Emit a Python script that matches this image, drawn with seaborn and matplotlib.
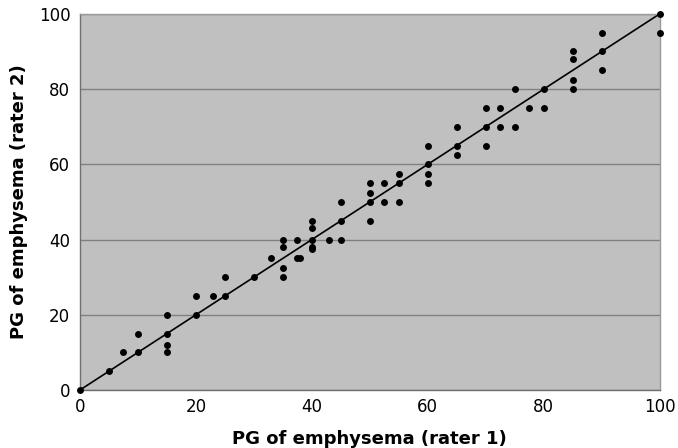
import matplotlib
matplotlib.use("Agg")
import matplotlib.pyplot as plt
import seaborn as sns
import pandas as pd

rater1 = [0, 5, 7.5, 10, 10, 15, 15, 15, 15, 20, 20, 23, 25, 25,
          30, 33, 35, 35, 35, 35, 37.5, 37.5, 38, 40, 40, 40, 40, 40, 43,
          45, 45, 45, 50, 50, 50, 50, 52.5, 52.5, 55, 55, 55,
          60, 60, 60, 60, 65, 65, 65, 70, 70, 70, 72.5, 72.5,
          75, 75, 77.5, 80, 80, 85, 85, 85, 85, 90, 90, 90, 100, 100]
rater2 = [0, 5, 10, 10, 15, 20, 15, 12, 10, 20, 25, 25, 25, 30,
          30, 35, 32.5, 30, 40, 38, 40, 35, 35, 40, 38, 37.5, 43, 45, 40,
          40, 45, 50, 45, 50, 52.5, 55, 50, 55, 50, 55, 57.5,
          65, 60, 57.5, 55, 70, 65, 62.5, 75, 70, 65, 75, 70,
          80, 70, 75, 80, 75, 80, 82.5, 88, 90, 85, 90, 95, 100, 95]

xticks = [0, 20, 40, 60, 80, 100]
yticks = [0, 20, 40, 60, 80, 100]
xlabel = "PG of emphysema (rater 1)"
ylabel = "PG of emphysema (rater 2)"

df = pd.DataFrame({"r1": rater1, "r2": rater2})

sns.set_style("white")
plt.rcParams["font.family"] = ["DejaVu Sans"]
plt.rcParams["text.color"] = "black"
plt.rcParams["axes.labelcolor"] = "black"

fig = plt.figure(figsize=(6.78, 4.48), dpi=100)
ax = fig.add_axes([0.118, 0.1295, 0.855, 0.8395])
ax.set_facecolor("#c0c0c0")

sns.lineplot(x=[0, 100], y=[0, 100], ax=ax, color="black", linewidth=1.2, zorder=2)
sns.scatterplot(data=df, x="r1", y="r2", ax=ax, color="black", s=25,
                edgecolor="black", linewidth=0, zorder=3, clip_on=False)

ax.set_xlim(0, 100)
ax.set_ylim(0, 100)
ax.set_xticks(xticks)
ax.set_yticks(yticks)
ax.yaxis.grid(True, color="#808080", linewidth=1.0)
ax.xaxis.grid(False)
ax.set_axisbelow(True)

for s in ["top", "right"]:
    ax.spines[s].set_color("#9a9a9a")
    ax.spines[s].set_linewidth(1.0)
for s in ["left", "bottom"]:
    ax.spines[s].set_color("#707070")
    ax.spines[s].set_linewidth(1.0)

ax.tick_params(axis="both", which="both", direction="out", length=4, width=1,
               color="#707070", labelsize=12, labelcolor="black", pad=2)
ax.tick_params(axis="y", length=5)

ax.set_xlabel(xlabel, fontsize=13, fontweight="bold", labelpad=10, color="black")
ax.set_ylabel(ylabel, fontsize=13, fontweight="bold", labelpad=8, color="black")

fig.savefig("out.png", dpi=100)
